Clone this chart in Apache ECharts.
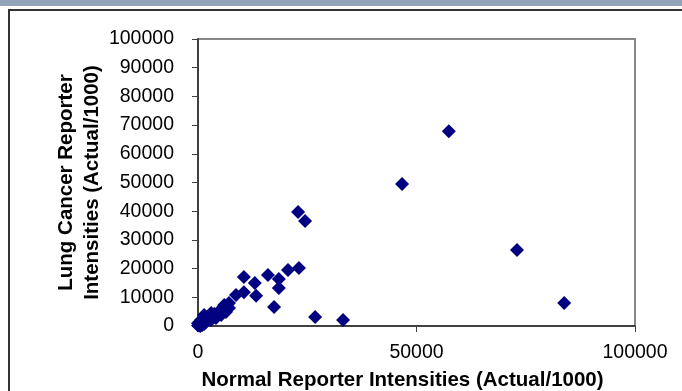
<!DOCTYPE html>
<html>
<head>
<meta charset="utf-8">
<script src="https://cdn.jsdelivr.net/npm/echarts@6/dist/echarts.min.js"></script>
<style>
html,body{margin:0;padding:0;background:#fff;}
#chart{width:682px;height:391px;}
</style>
</head>
<body>
<div id="chart"></div>
<script>
// Normal (x) vs Lung Cancer (y) reporter intensities (Actual/1000)
const normalIntensity = [57400, 46700, 73000, 83800, 22900, 24500, 23100, 20600, 16000, 18500,
  18500, 17400, 26800, 33200, 10500, 13000, 13300, 10500, 8700, 7100,
  6000, 7100, 4600, 3700, 3000, 2300, 1400, 700, 0, 500,
  900, 1800, 3000, 4100, 5300, 6400, 1400, 0];
const cancerIntensity = [67900, 49500, 26500, 8000, 39700, 36600, 20200, 19500, 17800, 16400,
  13200, 6600, 3100, 2100, 17100, 15000, 10500, 11800, 10800, 8000,
  7300, 6300, 4900, 4200, 4500, 2800, 3800, 2100, 1000, 0,
  300, 1400, 2100, 2800, 3800, 4900, 700, 200];
const xTicks = [0, 50000, 100000];
const yTicks = [0, 10000, 20000, 30000, 40000, 50000, 60000, 70000, 80000, 90000, 100000];
const xTitle = 'Normal Reporter Intensities (Actual/1000)';
const yTitle = 'Lung Cancer Reporter\nIntensities (Actual/1000)';

const points = normalIntensity.map((x, i) => [x, cancerIntensity[i]]);
const font = '"Liberation Sans", Arial, sans-serif';

const chart = echarts.init(document.getElementById('chart'), null, {renderer: 'canvas'});
chart.setOption({
  animation: false,
  backgroundColor: '#ffffff',
  graphic: [
    {type: 'rect', shape: {x: 0, y: 0, width: 682, height: 6}, style: {fill: '#93a4bc'}, z: 0},
    {type: 'rect', shape: {x: 9, y: 10, width: 700, height: 400}, style: {fill: 'none', stroke: '#333333', lineWidth: 2}, z: 0}
  ],
  grid: {left: 198, right: 47, top: 39, bottom: 65, show: true, borderColor: '#888888', borderWidth: 2,
    backgroundColor: 'transparent', containLabel: false, outerBoundsMode: 'none'},
  xAxis: {
    type: 'value', min: xTicks[0], max: xTicks[xTicks.length - 1], interval: xTicks[1] - xTicks[0],
    name: xTitle, nameLocation: 'middle', nameGap: 44,
    nameTextStyle: {fontFamily: font, fontSize: 20.5, fontWeight: 'bold', color: '#000', padding: [0, 28, 0, 0]},
    axisLine: {show: true, lineStyle: {color: '#404040', width: 2}},
    axisTick: {show: true, inside: false, length: 6, lineStyle: {color: '#404040', width: 1}},
    axisLabel: {fontFamily: font, fontSize: 19.5, color: '#000', margin: 17, formatter: v => String(v)},
    splitLine: {show: false}
  },
  yAxis: {
    type: 'value', min: yTicks[0], max: yTicks[yTicks.length - 1], interval: yTicks[1] - yTicks[0],
    name: yTitle, nameLocation: 'middle', nameGap: 93, nameRotate: 90, nameMoveOverlap: false,
    nameTextStyle: {fontFamily: font, fontSize: 20.5, fontWeight: 'bold', color: '#000', lineHeight: 26, align: 'center'},
    axisLine: {show: true, lineStyle: {color: '#404040', width: 2}},
    axisTick: {show: true, inside: false, length: 6, lineStyle: {color: '#404040', width: 1}},
    axisLabel: {fontFamily: font, fontSize: 19.5, color: '#000', margin: 24, padding: [3, 0, 0, 0], formatter: v => String(v)},
    splitLine: {show: false}
  },
  series: [{
    type: 'scatter',
    data: points,
    symbol: 'diamond',
    symbolSize: 14,
    itemStyle: {color: '#000080', opacity: 1}
  }]
});
</script>
</body>
</html>
